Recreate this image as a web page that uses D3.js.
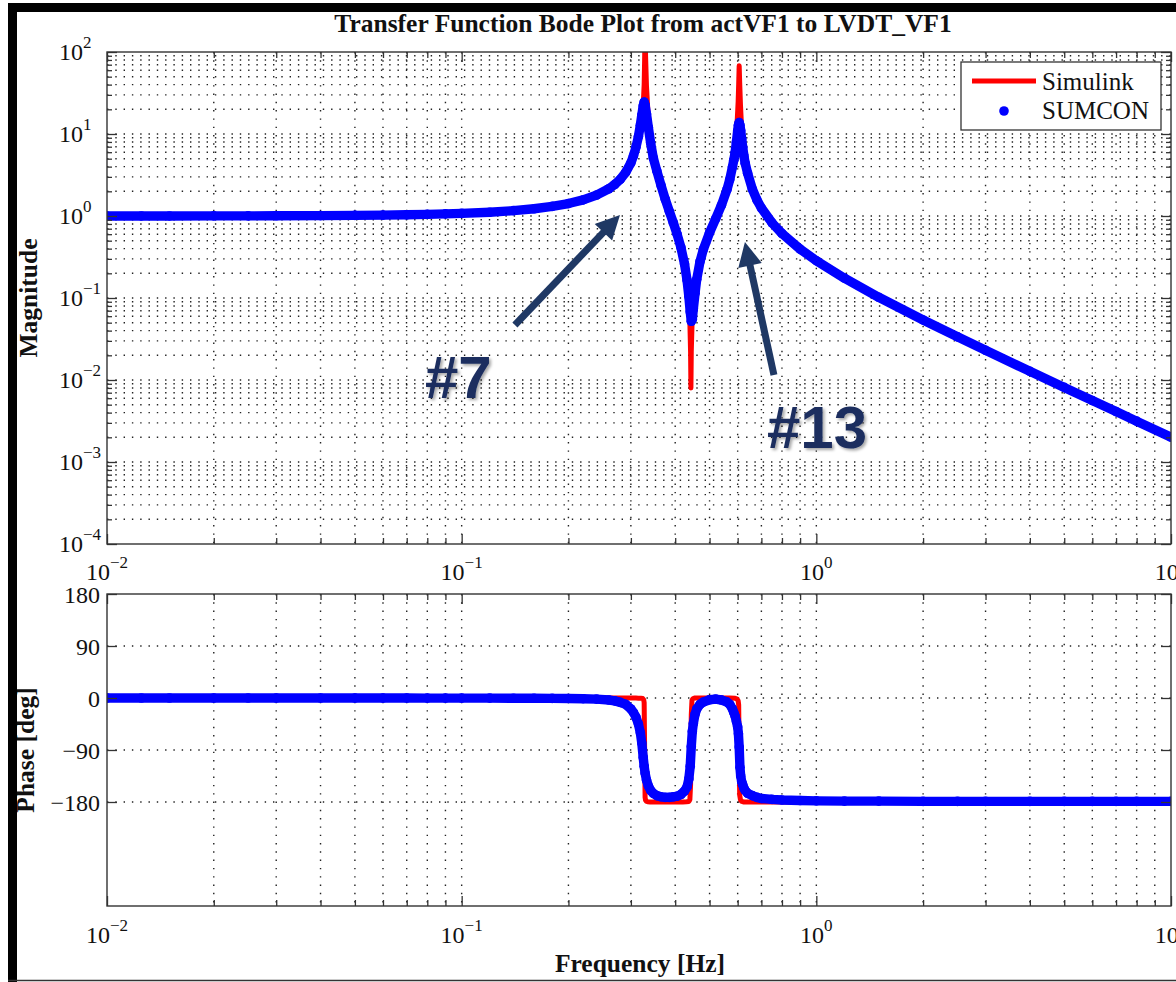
<!DOCTYPE html>
<html>
<head>
<meta charset="utf-8">
<script src="https://cdn.jsdelivr.net/npm/d3@7"></script>
<style>
  body { margin: 0; background: #fff; }
  svg { display: block; }
  .ticks .domain { display: none; }
  .ticks .tick text { display: none; }
  .ticks .tick line { stroke: #333; stroke-width: 1.3; }
  .grid line { stroke: #222; stroke-width: 1.4; stroke-dasharray: 1.4 6.9; }
</style>
</head>
<body>
<svg id="chart" width="1176" height="982"></svg>
<script>
// ---- data ----
// Simulink model (red line)
var simFreq  = [0.01, 0.02, 0.05, 0.1, 0.15, 0.2, 0.24, 0.27, 0.29, 0.30, 0.31, 0.315, 0.32, 0.324, 0.326, 0.327,
                0.328, 0.329, 0.330, 0.332, 0.335, 0.34, 0.35, 0.36, 0.38, 0.40, 0.42, 0.43, 0.437, 0.440, 0.442,
                0.443, 0.444, 0.446, 0.449, 0.455, 0.47, 0.50, 0.54, 0.57, 0.59, 0.598, 0.602, 0.604, 0.606, 0.608,
                0.611, 0.616, 0.625, 0.64, 0.70, 0.8, 1.0, 1.5, 2, 3, 5, 7, 10];
var simMag   = [1.000, 1.003, 1.018, 1.075, 1.19, 1.40, 1.74, 2.30, 3.15, 4.0, 5.9, 7.9, 11.8, 18.5, 30, 40,
                80, 200, 90, 38, 19, 10.5, 4.34, 2.71, 1.336, 0.712, 0.334, 0.188, 0.098, 0.05, 0.022,
                0.008, 0.022, 0.045, 0.07, 0.100, 0.279, 0.628, 1.354, 2.78, 6.56, 14, 25, 40, 68, 42,
                23, 11, 5.5, 3.33, 1.25, 0.612, 0.285, 0.102, 0.054, 0.023, 0.00812, 0.00412, 0.00201];
var simPhase = [0, 0, 0, 0, 0, 0, 0, 0, 0, 0, -0.2, -0.3, -0.5, -1, -3, -8,
                -90, -172, -177, -179, -179.5, -180, -180, -180, -180, -180, -180, -179.5, -179, -176, -150,
                -90, -30, -4, -1, 0, 0, 0, 0, 0, -0.5, -2, -5, -12, -90, -168,
                -176, -179, -180, -180, -180, -180, -180, -180, -180, -180, -180, -180, -180];

// SUMCON measurement (blue dots)
var sumFreq  = [0.01, 0.0125, 0.015, 0.02, 0.025, 0.03, 0.04, 0.05, 0.06, 0.07, 0.08, 0.09, 0.10, 0.12, 0.14,
                0.16, 0.18, 0.20, 0.22, 0.24, 0.26, 0.27, 0.28, 0.29, 0.30, 0.305, 0.31, 0.315, 0.319, 0.322,
                0.325, 0.327, 0.329, 0.332, 0.336, 0.341, 0.347, 0.355, 0.365, 0.375, 0.385, 0.395, 0.405,
                0.415, 0.425, 0.432, 0.437, 0.441, 0.444, 0.447, 0.45, 0.455, 0.46, 0.47, 0.48, 0.50, 0.52,
                0.54, 0.56, 0.57, 0.58, 0.585, 0.59, 0.595, 0.60, 0.603, 0.606, 0.609, 0.612, 0.616, 0.62,
                0.625, 0.63, 0.64, 0.66, 0.68, 0.70, 0.75, 0.80, 0.90, 1.0, 1.2, 1.5, 2.0, 2.5, 3.0, 4.0,
                5.0, 6.0, 7.0, 8.0, 10.0];
var sumMag   = [1.000, 1.001, 1.002, 1.003, 1.004, 1.006, 1.011, 1.018, 1.026, 1.035, 1.047, 1.060, 1.075, 1.113, 1.162,
                1.226, 1.309, 1.42, 1.57, 1.80, 2.15, 2.42, 2.80, 3.40, 4.45, 5.4, 6.9, 9.3, 12.8, 17.0,
                22.0, 24.5, 22.5, 17.5, 12.0, 7.8, 5.1, 3.55, 2.35, 1.6, 1.14, 0.83, 0.60,
                0.415, 0.26, 0.165, 0.105, 0.068, 0.052, 0.055, 0.074, 0.114, 0.169, 0.279, 0.389, 0.628, 0.925,
                1.354, 2.11, 2.78, 3.95, 4.8, 5.9, 7.9, 10.9, 12.8, 13.8, 12.8, 11.0, 8.7, 6.9,
                5.4, 4.4, 3.33, 2.13, 1.57, 1.25, 0.825, 0.612, 0.395, 0.285, 0.1745, 0.102, 0.054, 0.0336, 0.0230, 0.01277,
                0.00812, 0.00562, 0.00412, 0.00315, 0.00201];
var sumPhase = [0, 0, 0, 0, 0, 0, 0, -0.1, -0.1, -0.1, -0.2, -0.2, -0.2, -0.3, -0.4,
                -0.5, -0.6, -0.8, -1.2, -2, -3.5, -5, -7.5, -11, -19, -25, -33, -45, -60, -78,
                -103, -118, -130, -142, -152, -160, -165, -169, -171, -172, -172, -171, -170,
                -167, -161, -154, -140, -118, -84, -58, -44, -28, -19, -11, -7, -3, -2,
                -3.5, -7, -11, -19, -25, -31, -40, -50, -62, -85, -120, -135, -145, -150,
                -156, -160, -165, -169, -172, -174, -175.5, -176.5, -177.5, -178, -178.5, -178.5, -179, -179, -179, -179,
                -179, -179, -179, -179, -179];

// axis ticks
var freqDecades  = [-2, -1, 0, 1];
var magDecades   = [-4, -3, -2, -1, 0, 1, 2];
var phaseTicks   = [-180, -90, 0, 90, 180];
var phaseGrid    = [-180, -90, 0, 90];

var legendNames  = ["Simulink", "SUMCON"];
var notes = [
  { label: "#7",  tail: [0.1413, 0.0469], tip: [0.2795, 1.03],  text: [0.0788, 0.00603] },
  { label: "#13", tail: [0.7594, 0.0115], tip: [0.629, 0.4817], text: [0.7256, 0.00148] }
];

// ---- layout ----
var left = 107, right = 1171;
var magTop = 52, magBottom = 544, phTop = 594, phBottom = 906;
var red = "#ff0000", blue = "#0000ff", navy = "#1f3864";
var serif = "'Liberation Serif', 'Times New Roman', Times, serif";

var svg = d3.select("#chart");
svg.append("rect").attr("width", 1176).attr("height", 982).attr("fill", "#fff");

var x = d3.scaleLog().domain([0.01, 10]).range([left, right]);
var yMag = d3.scaleLog().domain([1e-4, 1e2]).range([magBottom, magTop]);
var yPh = d3.scaleLinear().domain([-360, 180]).range([phBottom, phTop]);

var xAll = x.ticks();
var xMajor = freqDecades.map(function (e) { return Math.pow(10, e); });
var xMinor = xAll.filter(function (v) { return xMajor.indexOf(v) < 0; });
var magAll = yMag.ticks();
var magMajor = magDecades.map(function (e) { return Math.pow(10, e); });
var magMinor = magAll.filter(function (v) { return magMajor.indexOf(v) < 0; });

var defs = svg.append("defs");
defs.append("clipPath").attr("id", "clipMag").append("rect")
  .attr("x", left).attr("y", magTop).attr("width", right - left).attr("height", magBottom - magTop);
defs.append("clipPath").attr("id", "clipPh").append("rect")
  .attr("x", left).attr("y", phTop).attr("width", right - left).attr("height", phBottom - phTop);
var shadow = defs.append("filter").attr("id", "shadow").attr("x", "-20%").attr("y", "-20%")
  .attr("width", "150%").attr("height", "150%");
shadow.append("feDropShadow").attr("dx", 2).attr("dy", 2).attr("stdDeviation", 1.5)
  .attr("flood-color", "#000").attr("flood-opacity", 0.35);

// ---- grids ----
function grid(yScale, yVals, top, bottom) {
  var g = svg.append("g").attr("class", "grid");
  g.selectAll(".v").data(xAll.filter(function (v) { return v > 0.01 && v < 10; }))
    .enter().append("line")
    .attr("x1", function (d) { return x(d); }).attr("x2", function (d) { return x(d); })
    .attr("y1", top).attr("y2", bottom);
  g.selectAll(".h").data(yVals)
    .enter().append("line")
    .attr("x1", left).attr("x2", right)
    .attr("y1", function (d) { return yScale(d); }).attr("y2", function (d) { return yScale(d); });
}
grid(yMag, magAll.filter(function (v) { return v > 1e-4 && v < 1e2; }), magTop, magBottom);
grid(yPh, phaseGrid.filter(function (v) { return v < 180; }), phTop, phBottom);

// ---- ticks (inward, all four sides) ----
function ticks(yScale, yMajorVals, yMinorVals, top, bottom) {
  var g = svg.append("g").attr("class", "ticks");
  g.append("g").attr("transform", "translate(0," + bottom + ")")
    .call(d3.axisBottom(x).tickValues(xMajor).tickSize(-10).tickFormat(""));
  g.append("g").attr("transform", "translate(0," + bottom + ")")
    .call(d3.axisBottom(x).tickValues(xMinor).tickSize(-6).tickFormat(""));
  g.append("g").attr("transform", "translate(0," + top + ")")
    .call(d3.axisTop(x).tickValues(xMajor).tickSize(-10).tickFormat(""));
  g.append("g").attr("transform", "translate(0," + top + ")")
    .call(d3.axisTop(x).tickValues(xMinor).tickSize(-6).tickFormat(""));
  g.append("g").attr("transform", "translate(" + left + ",0)")
    .call(d3.axisLeft(yScale).tickValues(yMajorVals).tickSize(-10).tickFormat(""));
  g.append("g").attr("transform", "translate(" + right + ",0)")
    .call(d3.axisRight(yScale).tickValues(yMajorVals).tickSize(-10).tickFormat(""));
  if (yMinorVals.length) {
    g.append("g").attr("transform", "translate(" + left + ",0)")
      .call(d3.axisLeft(yScale).tickValues(yMinorVals).tickSize(-5).tickFormat(""));
    g.append("g").attr("transform", "translate(" + right + ",0)")
      .call(d3.axisRight(yScale).tickValues(yMinorVals).tickSize(-5).tickFormat(""));
  }
  svg.append("rect").attr("x", left).attr("y", top)
    .attr("width", right - left).attr("height", bottom - top)
    .attr("fill", "none").attr("stroke", "#333").attr("stroke-width", 1.4);
}

// ---- series ----
var magLine = d3.line().x(function (d) { return x(d[0]); }).y(function (d) { return yMag(d[1]); });
var phLine = d3.line().x(function (d) { return x(d[0]); }).y(function (d) { return yPh(d[1]); });

var simMagData = simFreq.map(function (f, i) { return [f, simMag[i]]; });
var simPhData = simFreq.map(function (f, i) { return [f, simPhase[i]]; });
var sumMagData = sumFreq.map(function (f, i) { return [f, sumMag[i]]; });
var sumPhData = sumFreq.map(function (f, i) { return [f, sumPhase[i]]; });

function series(clip, line, simData, sumData, yScale) {
  var g = svg.append("g").attr("clip-path", "url(#" + clip + ")");
  g.append("path").datum(simData).attr("d", line)
    .attr("fill", "none").attr("stroke", red).attr("stroke-width", 5)
    .attr("stroke-linejoin", "round").attr("stroke-linecap", "round");
  g.append("path").datum(sumData).attr("d", line)
    .attr("fill", "none").attr("stroke", blue).attr("stroke-width", 9.4)
    .attr("stroke-linejoin", "round").attr("stroke-linecap", "round");
  g.selectAll("circle").data(sumData).enter().append("circle")
    .attr("cx", function (d) { return x(d[0]); })
    .attr("cy", function (d) { return yScale(d[1]); })
    .attr("r", 4.8).attr("fill", blue);
}

series("clipMag", magLine, simMagData, sumMagData, yMag);
ticks(yMag, magMajor, magMinor, magTop, magBottom);
series("clipPh", phLine, simPhData, sumPhData, yPh);
ticks(yPh, phaseTicks, [], phTop, phBottom);

// ---- tick labels ----
function expLabel(sel, e) {
  sel.append("tspan").text("10");
  sel.append("tspan").attr("dy", -12).attr("font-size", 17)
    .text(e < 0 ? "\u2212" + (-e) : String(e));
}
function serifText(size) {
  return svg.append("text").attr("font-family", serif).attr("font-size", size).attr("fill", "#111");
}
magDecades.forEach(function (e) {
  var t = serifText(24).attr("x", 59).attr("y", yMag(Math.pow(10, e)) + 8);
  expLabel(t, e);
});
[magBottom + 36, phBottom + 37].forEach(function (yy) {
  freqDecades.forEach(function (e) {
    var t = serifText(24).attr("text-anchor", "middle").attr("x", x(Math.pow(10, e))).attr("y", yy);
    expLabel(t, e);
  });
});
var fmt = d3.format("d");
phaseTicks.forEach(function (v) {
  serifText(24).attr("text-anchor", "end").attr("x", 100).attr("y", yPh(v) + 9).text(fmt(v));
});

// ---- titles ----
serifText(25.5).attr("font-weight", "bold")
  .attr("text-anchor", "middle").attr("x", 643).attr("y", 32)
  .text("Transfer Function Bode Plot from actVF1 to LVDT_VF1");
serifText(25.5).attr("font-weight", "bold")
  .attr("text-anchor", "middle").attr("transform", "translate(37," + (magTop + magBottom) / 2 + ") rotate(-90)")
  .text("Magnitude");
serifText(25.5).attr("font-weight", "bold")
  .attr("text-anchor", "middle").attr("transform", "translate(34,750) rotate(-90)")
  .text("Phase [deg]");
serifText(25.5).attr("font-weight", "bold")
  .attr("text-anchor", "middle").attr("x", 640).attr("y", 972)
  .text("Frequency [Hz]");

// ---- legend ----
var lg = svg.append("g").attr("transform", "translate(961,62)");
lg.append("rect").attr("width", 200).attr("height", 68)
  .attr("fill", "#fff").attr("stroke", "#333").attr("stroke-width", 1.3);
lg.append("line").attr("x1", 11).attr("x2", 75).attr("y1", 19).attr("y2", 19)
  .attr("stroke", red).attr("stroke-width", 5);
lg.append("circle").attr("cx", 43).attr("cy", 49).attr("r", 4.8).attr("fill", blue);
lg.selectAll("text.lab").data(legendNames).enter().append("text")
  .attr("class", "lab").attr("font-family", serif).attr("font-size", 25).attr("fill", "#111")
  .attr("x", 81).attr("y", function (d, i) { return 28 + i * 29; })
  .text(function (d) { return d; });

// ---- annotations ----
notes.forEach(function (n) {
  var t0 = [x(n.tail[0]), yMag(n.tail[1])];
  var t1 = [x(n.tip[0]), yMag(n.tip[1])];
  var dx = t1[0] - t0[0], dy = t1[1] - t0[1];
  var len = Math.sqrt(dx * dx + dy * dy);
  var ux = dx / len, uy = dy / len;
  var headLen = 24, headHalf = 12;
  var bx = t1[0] - ux * headLen, by = t1[1] - uy * headLen;
  svg.append("line").attr("x1", t0[0]).attr("y1", t0[1])
    .attr("x2", bx + ux * 2).attr("y2", by + uy * 2)
    .attr("stroke", navy).attr("stroke-width", 7);
  svg.append("polygon")
    .attr("points", [[t1[0], t1[1]], [bx - uy * headHalf, by + ux * headHalf], [bx + uy * headHalf, by - ux * headHalf]].join(" "))
    .attr("fill", navy);
  svg.append("text").attr("x", x(n.text[0])).attr("y", yMag(n.text[1]))
    .attr("font-family", "'Liberation Sans', Arial, sans-serif").attr("font-weight", "bold")
    .attr("font-size", 60).attr("fill", "#1b2d5e").attr("filter", "url(#shadow)")
    .text(n.label);
});

// ---- outer frame ----
svg.append("rect").attr("x", 8).attr("y", 3).attr("width", 9).attr("height", 979).attr("fill", "#000");
svg.append("rect").attr("x", 8).attr("y", 3).attr("width", 1168).attr("height", 9).attr("fill", "#000");
svg.append("line").attr("x1", 8).attr("x2", 1176).attr("y1", 980.5).attr("y2", 980.5)
  .attr("stroke", "#333").attr("stroke-width", 1.5);
</script>
</body>
</html>
